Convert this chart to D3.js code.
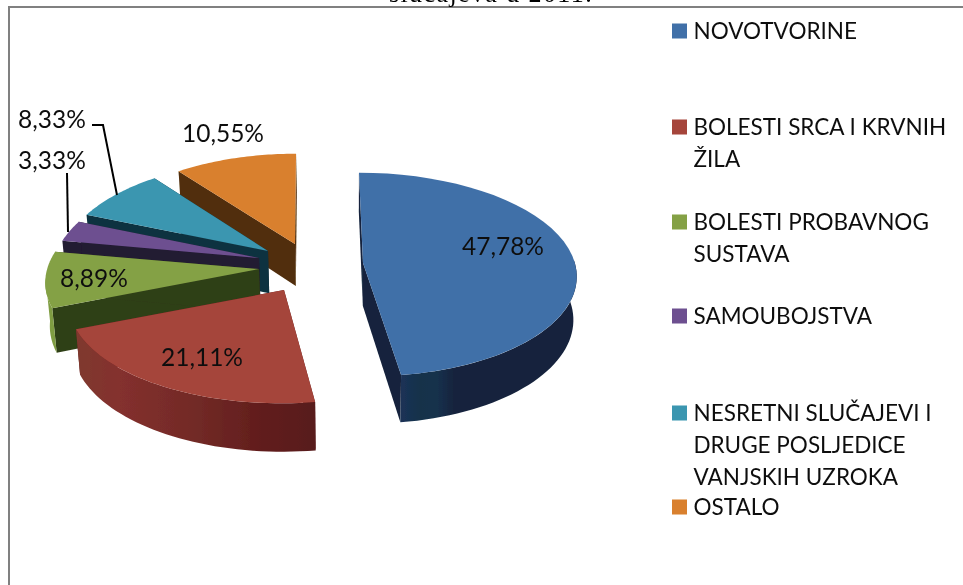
<!DOCTYPE html>
<html><head><meta charset="utf-8">
<script src="https://cdn.jsdelivr.net/npm/d3@7/dist/d3.min.js"></script>
<style>html,body{margin:0;padding:0;background:#fff;overflow:hidden}svg{display:block}text{font-family:Lato,"Open Sans",sans-serif;fill:#111}</style>
</head><body><svg id="c" width="963" height="585"></svg>
<script>
const categories = ["NOVOTVORINE","BOLESTI SRCA I KRVNIH ŽILA","BOLESTI PROBAVNOG SUSTAVA","SAMOUBOJSTVA","NESRETNI SLUČAJEVI I DRUGE POSLJEDICE VANJSKIH UZROKA","OSTALO"];
const legendLines = [["NOVOTVORINE"],["BOLESTI SRCA I KRVNIH","ŽILA"],["BOLESTI PROBAVNOG","SUSTAVA"],["SAMOUBOJSTVA"],["NESRETNI SLUČAJEVI I","DRUGE POSLJEDICE","VANJSKIH UZROKA"],["OSTALO"]];
const values = [47.78,21.11,8.89,3.33,8.33,10.55];
const titleTail = "slučajeva u 2011.";

// layout and styling
const topColors  = ["#4170a8","#a5443a","#84a145","#6d5090","#3a96b0","#d9802f"];
const wallColors = ["#14233c","#5f1e1e","#2f3f18","#221a33","#10323f","#512e0a"];
const center = [300,262], rx = 214, ry = 100.5, persp = 0.113;
const explode = [[63,1],[-16,28],[-41,7],[-41,-4],[-32,-11],[-5,-18]];
const sliceScaleX = [0.99,1.0,0.99,0.955,0.96,0.97];
const labelPos = [[503,246],[202,357],[94,278],[52,160],[52,119],[223,133]];
const leaders = [null,null,null,[[67,173],[68,232]],[[92,125],[103,125],[117,195]],null];
const legendY = [31,127,222,316,413,507];
const legendLineH = 31.7;
const drawOrder = [5,4,3,2,1,0];

const svg = d3.select("#c");
const defs = svg.append("defs");
defs.append("filter").attr("id","soft").attr("x","-5%").attr("y","-5%").attr("width","110%").attr("height","110%")
  .append("feGaussianBlur").attr("stdDeviation",0.45);
const root = svg.append("g").attr("filter","url(#soft)");

function grad(id,x0,x1,stops){
  const g = defs.append("linearGradient").attr("id",id).attr("gradientUnits","userSpaceOnUse")
    .attr("x1",x0).attr("x2",x1).attr("y1",0).attr("y2",0);
  stops.forEach(s=>g.append("stop").attr("offset",s[0]).attr("stop-color",s[1]));
  return `url(#${id})`;
}
const outerFill = [
  grad("wb",403,577,[[0,"#1b3355"],[.1,"#12304a"],[.2,"#16304c"],[.3,"#14233c"],[1,"#14233c"]]),
  grad("wr",76,314,[[0,"#7f3a2e"],[.18,"#84302e"],[.5,"#722a26"],[.8,"#601c1c"],[1,"#581a1c"]]),
  "#7f9d42", "#6d5090", "#2d7f96", "#d9802f"
];

const pie = d3.pie().sort(null).value(d=>d).startAngle(0).endAngle(2*Math.PI);
const arcs = pie(values);
const line = d3.line();

// projection of a point on the tilted plane of the pie
function proj(sliceIdx, angle, r){
  const ax = center[0]+explode[sliceIdx][0], ay = center[1]+explode[sliceIdx][1];
  const sx = r*Math.sin(angle), sy = -r*Math.cos(angle);
  const w = 1-persp*sy, shear = (ax-309)*0.083;
  return [ax+(rx*sliceScaleX[sliceIdx]*sx+shear*sy)/w, ay+ry*sy/w];
}
const drop = p => [p[0]+(350-p[0])*0.015, p[1]+42+(p[1]-243)*0.04];
const sample = (i,a0,a1) => d3.range(0,41).map(k=>proj(i,a0+(a1-a0)*k/40,1));
const rad = d=>d*Math.PI/180;

// back-to-front painting
drawOrder.forEach(i=>{
  const a = arcs[i], g = root.append("g");
  const apex = proj(i,0,0);
  const radialWall = ang => {
    const e = proj(i,ang,1);
    g.append("path").attr("d",line([apex,e,drop(e),drop(apex)])+"Z").attr("fill",wallColors[i]);
  };
  radialWall(a.startAngle);
  radialWall(a.endAngle);
  const v0 = Math.max(a.startAngle,rad(88)), v1 = Math.min(a.endAngle,rad(265));
  if(v1>v0){
    const s = sample(i,v0,v1);
    g.append("path").attr("d",line(s.concat(s.map(drop).reverse()))+"Z").attr("fill",outerFill[i]);
  }
  g.append("path").attr("d",line([apex].concat(sample(i,a.startAngle,a.endAngle)))+"Z").attr("fill",topColors[i]);
});

// frame
root.append("path").attr("d","M9,585V7H963").attr("fill","none").attr("stroke","#808080").attr("stroke-width",2);
root.append("text").attr("x",491).attr("y",1.5).attr("text-anchor","middle")
  .style("font-family","'Liberation Serif',serif").style("font-size","26px").style("letter-spacing","1.4px").style("fill","#000").text(titleTail);

// leader lines
leaders.forEach(l=>{ if(l) root.append("path").attr("d",line(l)).attr("fill","none").attr("stroke","#000").attr("stroke-width",2); });

// value labels
root.selectAll("text.v").data(values).enter().append("text").attr("class","v")
  .attr("x",(d,i)=>labelPos[i][0]).attr("y",(d,i)=>labelPos[i][1]).attr("dy","0.36em")
  .attr("text-anchor","middle").style("font-size","24.5px")
  .text(d=>d.toFixed(2).replace(".",",")+"%");

// legend
categories.forEach((c,i)=>{
  root.append("rect").attr("x",672).attr("y",legendY[i]-7.5).attr("width",15).attr("height",15).attr("fill",topColors[i]);
  legendLines[i].forEach((t,j)=>{
    root.append("text").attr("x",693.5).attr("y",legendY[i]+j*legendLineH).attr("dy","0.36em")
      .style("font-size","22.5px").text(t);
  });
});
</script></body></html>
